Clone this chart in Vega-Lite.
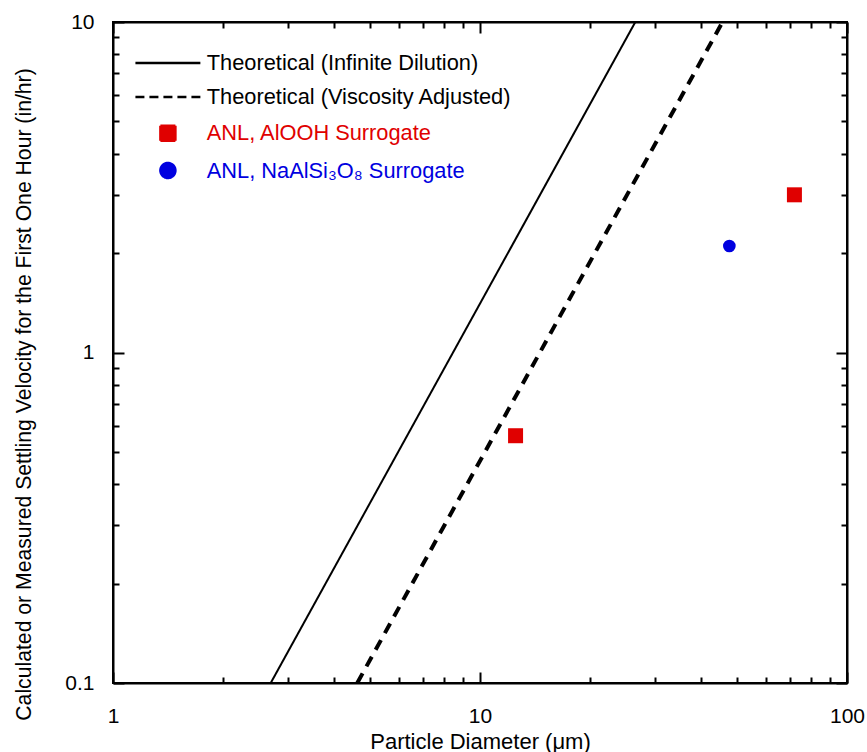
{
  "$schema": "https://vega.github.io/schema/vega-lite/v6.json",
  "width": 734,
  "height": 661,
  "autosize": {"type": "none"},
  "padding": {"left": 113, "top": 22, "right": 20, "bottom": 69},
  "background": "white",
  "config": {
    "font": "Liberation Sans",
    "view": {"stroke": "black", "strokeWidth": 2},
    "axis": {
      "grid": false,
      "domainColor": "black",
      "domainWidth": 2,
      "tickColor": "black",
      "tickWidth": 2,
      "labelFont": "Liberation Sans",
      "labelFontSize": 21,
      "labelColor": "black",
      "labelFlush": false,
      "labelOverlap": false,
      "labelBound": false,
      "titleFont": "Liberation Sans",
      "titleFontSize": 22,
      "titleFontWeight": "normal",
      "titleColor": "black"
    }
  },
  "datasets": {
    "theory": [
      {"series": "Theoretical (Infinite Dilution)", "d": 2.69, "v": 0.1},
      {"series": "Theoretical (Infinite Dilution)", "d": 26.5, "v": 10},
      {"series": "Theoretical (Viscosity Adjusted)", "d": 4.63, "v": 0.1},
      {"series": "Theoretical (Viscosity Adjusted)", "d": 45.8, "v": 10}
    ],
    "measured": [
      {"series": "ANL, AlOOH Surrogate", "d": 12.5, "v": 0.56},
      {"series": "ANL, AlOOH Surrogate", "d": 71.9, "v": 3.0},
      {"series": "ANL, NaAlSi₃O₈ Surrogate", "d": 47.8, "v": 2.1}
    ]
  },
  "resolve": {"axis": {"x": "independent", "y": "independent"}},
  "layer": [
    {
      "data": {"name": "theory"},
      "transform": [{"filter": "datum.series == 'Theoretical (Infinite Dilution)'"}],
      "mark": {"type": "line", "strokeWidth": 2, "clip": true},
      "encoding": {
        "x": {
          "field": "d", "type": "quantitative",
          "scale": {"type": "log", "domain": [1, 100], "nice": false},
          "axis": {
            "orient": "bottom",
            "values": [1, 2, 3, 4, 5, 6, 7, 8, 9, 10, 20, 30, 40, 50, 60, 70, 80, 90, 100],
            "labelExpr": "datum.value == 1 || datum.value == 10 || datum.value == 100 ? datum.value + '' : ''",
            "tickSize": {"condition": {"test": "datum.value == 1 || datum.value == 10 || datum.value == 100", "value": -11}, "value": -6},
            "labelPadding": 33,
            "title": "Particle Diameter (μm)",
            "titlePadding": 0
          }
        },
        "y": {
          "field": "v", "type": "quantitative",
          "scale": {"type": "log", "domain": [0.1, 10], "nice": false},
          "axis": {
            "orient": "left",
            "values": [0.1, 0.2, 0.3, 0.4, 0.5, 0.6, 0.7, 0.8, 0.9, 1, 2, 3, 4, 5, 6, 7, 8, 9, 10],
            "labelExpr": "datum.value == 0.1 || datum.value == 1 || datum.value == 10 ? datum.value + '' : ''",
            "tickSize": {"condition": {"test": "datum.value == 0.1 || datum.value == 1 || datum.value == 10", "value": -11}, "value": -6},
            "labelPadding": 30,
            "title": "Calculated or Measured Settling Velocity for the First One Hour (in/hr)",
            "titleFontSize": 21.2,
            "titlePadding": 30,
            "titleY": 372
          }
        },
        "color": {
          "field": "series", "type": "nominal",
          "scale": {
            "domain": ["Theoretical (Infinite Dilution)", "Theoretical (Viscosity Adjusted)", "ANL, AlOOH Surrogate", "ANL, NaAlSi₃O₈ Surrogate"],
            "range": ["black", "black", "#e00000", "#0000e0"]
          },
          "legend": {
            "orient": "top-left",
            "offset": 30,
            "title": null,
            "labelFont": "Liberation Sans",
            "labelFontSize": 21.8,
            "labelLimit": 500,
            "labelColor": {"expr": "indexof(datum.value, 'AlOOH') >= 0 ? '#e00000' : (indexof(datum.value, 'NaAl') >= 0 ? '#0000e0' : 'black')"},
            "symbolType": {"expr": "indexof(datum.value, 'Theoretical') == 0 ? 'M-4.33,0H4.33' : (indexof(datum.value, 'AlOOH') >= 0 ? 'square' : 'circle')"},
            "symbolStrokeColor": {"expr": "indexof(datum.value, 'Theoretical') == 0 ? 'black' : 'transparent'"},
            "symbolDash": {"expr": "datum.value == 'Theoretical (Viscosity Adjusted)' ? [9, 5] : [1, 0]"},
            "symbolStrokeWidth": 2.5,
            "symbolOpacity": 1,
            "symbolSize": 225,
            "symbolOffset": 14,
            "labelOffset": 28,
            "rowPadding": 11.2,
            "padding": 0
          }
        }
      }
    },
    {
      "data": {"name": "theory"},
      "transform": [{"filter": "datum.series == 'Theoretical (Viscosity Adjusted)'"}],
      "mark": {"type": "line", "strokeWidth": 4, "strokeDash": [11, 8], "clip": true},
      "encoding": {
        "x": {"field": "d", "type": "quantitative", "axis": null},
        "y": {"field": "v", "type": "quantitative", "axis": null},
        "color": {"field": "series", "type": "nominal"}
      }
    },
    {
      "data": {"name": "measured"},
      "transform": [{"filter": "indexof(datum.series, 'AlOOH') >= 0"}],
      "mark": {"type": "square", "size": 225, "opacity": 1, "filled": true},
      "encoding": {
        "x": {"field": "d", "type": "quantitative", "axis": null},
        "y": {"field": "v", "type": "quantitative", "axis": null},
        "color": {"field": "series", "type": "nominal"}
      }
    },
    {
      "data": {"name": "measured"},
      "transform": [{"filter": "indexof(datum.series, 'NaAl') >= 0"}],
      "mark": {"type": "circle", "size": 160, "opacity": 1},
      "encoding": {
        "x": {"field": "d", "type": "quantitative", "axis": null},
        "y": {"field": "v", "type": "quantitative", "axis": null},
        "color": {"field": "series", "type": "nominal"}
      }
    },
    {
      "data": {"name": "measured"},
      "mark": {"type": "point", "opacity": 0},
      "encoding": {
        "x": {
          "field": "d", "type": "quantitative",
          "axis": {
            "orient": "top",
            "values": [1, 2, 3, 4, 5, 6, 7, 8, 9, 10, 20, 30, 40, 50, 60, 70, 80, 90, 100],
            "labels": false,
            "title": null,
            "tickSize": {"condition": {"test": "datum.value == 1 || datum.value == 10 || datum.value == 100", "value": -11}, "value": -6}
          }
        },
        "y": {
          "field": "v", "type": "quantitative",
          "axis": {
            "orient": "right",
            "values": [0.1, 0.2, 0.3, 0.4, 0.5, 0.6, 0.7, 0.8, 0.9, 1, 2, 3, 4, 5, 6, 7, 8, 9, 10],
            "labels": false,
            "title": null,
            "tickSize": {"condition": {"test": "datum.value == 0.1 || datum.value == 1 || datum.value == 10", "value": -11}, "value": -6}
          }
        }
      }
    }
  ]
}
